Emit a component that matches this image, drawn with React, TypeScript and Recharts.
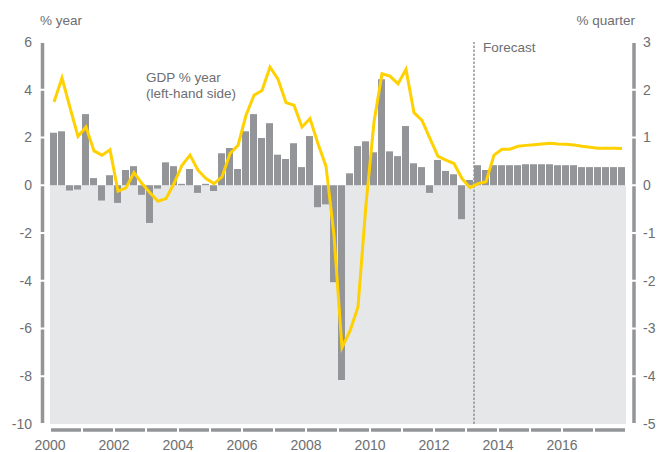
import React from 'react';
import { ComposedChart, Bar, Line, XAxis, YAxis, ReferenceArea, ReferenceLine } from 'recharts';

const YEARS = [2000, 2001, 2002, 2003, 2004, 2005, 2006, 2007, 2008, 2009, 2010, 2011, 2012, 2013, 2014, 2015, 2016, 2017];
const QUARTERS = ['Q1', 'Q2', 'Q3', 'Q4'];

// % quarter (right-hand scale units)
const GDP_QUARTER = [
  1.1, 1.13, -0.11, -0.09,
  1.49, 0.15, -0.32, 0.21,
  -0.37, 0.32, 0.4, -0.2,
  -0.79, -0.07, 0.48, 0.4,
  0.03, 0.34, -0.16, 0.03,
  -0.12, 0.67, 0.78, 0.34,
  1.13, 1.49, 0.99, 1.3,
  0.64, 0.55, 0.88, 0.38,
  1.03, -0.46, -0.4, -2.03,
  -4.08, 0.25, 0.82, 0.92,
  0.69, 2.22, 0.71, 0.61,
  1.24, 0.46, 0.38, -0.16,
  0.53, 0.3, 0.23, -0.71,
  0.11, 0.42, 0.32, 0.42,
  0.42, 0.42, 0.42, 0.44,
  0.44, 0.44, 0.44, 0.42,
  0.42, 0.42, 0.38, 0.38,
  0.38, 0.38, 0.38, 0.38,
];

// % year (left-hand scale)
const GDP_YEAR = [
  3.49, 4.49, 3.25, 2.05,
  2.44, 1.44, 1.26, 1.49,
  -0.25, -0.11, 0.53, 0.07,
  -0.31, -0.67, -0.56, 0.07,
  0.84, 1.26, 0.63, 0.28,
  0.07, 0.35, 1.33, 1.67,
  2.93, 3.77, 3.97, 4.95,
  4.44, 3.46, 3.35, 2.44,
  2.79, 1.74, 0.8, -2.1,
  -6.8, -6.1, -5.1, -0.8,
  2.65, 4.67, 4.57, 4.25,
  4.85, 3.04, 2.72, 1.95,
  1.21, 1.05, 0.91, 0.28,
  -0.1, 0.07, 0.15, 1.26,
  1.51, 1.51, 1.63, 1.67,
  1.7, 1.73, 1.76, 1.73,
  1.72, 1.69, 1.63, 1.59,
  1.55, 1.55, 1.55, 1.54,
];

const YEAR_TICKS = [2000, 2002, 2004, 2006, 2008, 2010, 2012, 2014, 2016];
const LEFT_TICKS = [-10, -8, -6, -4, -2, 0, 2, 4, 6];
const RIGHT_TICKS = [-5, -4, -3, -2, -1, 0, 1, 2, 3];
const FORECAST_START = 2013.25;

const data = GDP_QUARTER.map((q, i) => ({
  label: `${YEARS[Math.floor(i / 4)]} ${QUARTERS[i % 4]}`,
  t: YEARS[Math.floor(i / 4)] + ((i % 4) + 0.5) / 4,
  quarter: q,
  year: GDP_YEAR[i],
}));

const AXIS = '#939598';
const TEXT = '#6d6e71';
const SHADE = '#e6e7e8';
const YELLOW = '#ffd100';

const tickStyle = { fill: TEXT, fontSize: 14 };
const noteStyle = { fill: TEXT, fontSize: 13.5 };

export default function App() {
  return (
    <div style={{ position: 'absolute', left: 0, top: 0, fontFamily: '"Liberation Sans", Arial, sans-serif' }}>
      <ComposedChart width={659} height={452} data={data} margin={{ top: 42, right: 0, bottom: 0, left: 0 }}>
        <ReferenceArea yAxisId="left" x1={2000} x2={2018} y1={-10} y2={0} fill={SHADE} fillOpacity={1} stroke="none" />
        <XAxis
          dataKey="t"
          type="number"
          domain={[2000, 2018]}
          ticks={YEAR_TICKS}
          height={28}
          tickLine={false}
          tickSize={0}
          tickMargin={16}
          tick={tickStyle}
          axisLine={{ stroke: AXIS, strokeWidth: 3.5, strokeDasharray: '30 2', strokeDashoffset: -1, transform: 'translate(0 6)' }}
        />
        <YAxis
          yAxisId="left"
          domain={[-10, 6]}
          ticks={LEFT_TICKS}
          width={50}
          tickLine={false}
          tickSize={0}
          tickMargin={18}
          tick={tickStyle}
          axisLine={{ stroke: AXIS, strokeWidth: 3.5, strokeDasharray: '45.75 2', strokeDashoffset: -1, transform: 'translate(-7.5 0)' }}
        />
        <YAxis
          yAxisId="right"
          orientation="right"
          domain={[-5, 3]}
          ticks={RIGHT_TICKS}
          width={33}
          tickLine={false}
          tickSize={0}
          tickMargin={17}
          tick={tickStyle}
          axisLine={{ stroke: AXIS, strokeWidth: 3.5, strokeDasharray: '45.75 2', strokeDashoffset: -1, transform: 'translate(8 0)' }}
        />
        <Bar yAxisId="right" dataKey="quarter" fill={AXIS} barSize={7} isAnimationActive={false} />
        <ReferenceLine yAxisId="left" x={FORECAST_START} stroke={AXIS} strokeWidth={1.5} strokeDasharray="2.5 1.5" />
        <Line
          yAxisId="left"
          dataKey="year"
          type="linear"
          stroke={YELLOW}
          strokeWidth={3}
          dot={false}
          activeDot={false}
          isAnimationActive={false}
        />
        <text x={40} y={25} style={noteStyle}>% year</text>
        <text x={635} y={25} textAnchor="end" style={noteStyle}>% quarter</text>
        <text x={483} y={52} style={noteStyle}>Forecast</text>
        <text x={146} y={82} style={noteStyle}>GDP % year</text>
        <text x={146} y={98} style={noteStyle}>(left-hand side)</text>
        <text x={337} y={400} style={noteStyle}>GDP % quarter</text>
        <text x={337} y={416} style={noteStyle}>(left-hand side)</text>
      </ComposedChart>
    </div>
  );
}
